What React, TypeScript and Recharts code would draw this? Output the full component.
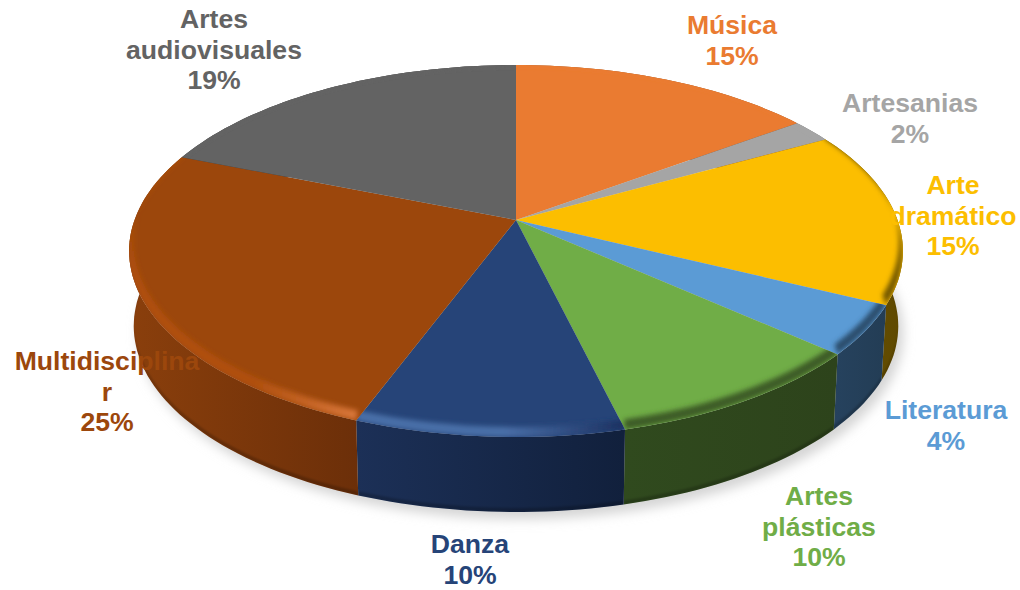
import { PieChart, Pie } from "recharts"

const categories = ["Música", "Artesanias", "Arte dramático", "Literatura", "Artes plásticas", "Danza", "Multidisciplinar", "Artes audiovisuales"]
const shares = [15, 2, 15.2, 4.3, 9.65, 9.6, 25.25, 19]
const topColors = ["#EA7B31", "#A5A5A5", "#FCBE00", "#5B9BD5", "#70AD47", "#264478", "#9C470C", "#636363"]
const wallLeft = ["#8c4a1d", "#636363", "#6b5200", "#26425e", "#304a1e", "#1c3057", "#8a3f0c", "#3b3b3b"]
const wallRight = ["#8c4a1d", "#636363", "#5f4900", "#233d55", "#2d431b", "#11203c", "#6c2f09", "#3b3b3b"]
const bevelLeft = ["#EA7B31", "#A5A5A5", "#6f5500", "#2c4d6d", "#3d5c26", "#4a6fa8", "#b0500e", "#636363"]
const bevelRight = ["#EA7B31", "#A5A5A5", "#6f5500", "#2c4d6d", "#3d5c26", "#1a3060", "#d9773a", "#636363"]
const labelLines = [["Música"], ["Artesanias"], ["Arte", "dramático"], ["Literatura"], ["Artes", "plásticas"], ["Danza"], ["Multidisciplina", "r"], ["Artes", "audiovisuales"]]
const labelX = [732, 910, 953, 946, 819, 470, 107, 214]
const labelY = [34, 112, 194, 419, 505, 553, 370, 28]

const slices = categories.map((name, i) => ({ name, value: shares[i], fill: topColors[i] }))

const W = 1020, H = 590
const CX = 516, CY = 220, R = 180.8
const XS = 2.11, P = 0.1667
const DEPTH = 75, BOTTOM_SHRINK = 0.988

// tilted disc: projects a pie angle to the page
const project = (deg: number, scale = 1, dy = 0) => {
  const a = (deg * Math.PI) / 180
  const u = Math.cos(a), v = Math.sin(a)
  const w = 1 + P * v
  return [CX + ((R * XS * u) / w) * scale, CY - (R * v) / w + dy]
}

const arc = (from: number, to: number, scale = 1, dy = 0) => {
  const n = Math.max(2, Math.ceil(Math.abs(to - from) / 1.5))
  const pts: number[][] = []
  for (let i = 0; i <= n; i++) pts.push(project(from + ((to - from) * i) / n, scale, dy))
  return pts
}

const toPath = (pts: number[][]) => "M" + pts.map(p => p[0].toFixed(1) + "," + p[1].toFixed(1)).join("L") + "Z"

const ShadowShape = (props: any) => {
  if (props.name !== categories[0]) return null
  const d = toPath(arc(0, 360, BOTTOM_SHRINK, DEPTH + 7).map(p => [p[0] + 5, p[1]]))
  return (
    <g>
      <defs>
        <filter id="soft" x="-10%" y="-10%" width="120%" height="120%"><feGaussianBlur stdDeviation="6" /></filter>
      </defs>
      <path d={d} fill="#d4d4d4" filter="url(#soft)" />
    </g>
  )
}

const WallShape = (props: any) => {
  const i = categories.indexOf(props.name)
  const s = props.startAngle, e = props.endAngle
  const d = toPath([...arc(s, e), ...arc(s, e, BOTTOM_SHRINK, DEPTH).reverse()])
  const rim = [...arc(s, e, BOTTOM_SHRINK, DEPTH), ...arc(s, e, BOTTOM_SHRINK, DEPTH - 4).reverse()]
  return (
    <g>
      <defs>
        <linearGradient id={"wall" + i} x1="0" x2="1" y1="0" y2="0">
          <stop offset="0" stopColor={wallLeft[i]} />
          <stop offset="1" stopColor={wallRight[i]} />
        </linearGradient>
        <clipPath id={"wallClip" + i}><path d={d} /></clipPath>
        <filter id={"rimBlur" + i} x="-10%" y="-50%" width="120%" height="200%"><feGaussianBlur stdDeviation="1" /></filter>
      </defs>
      <path d={d} fill={`url(#wall${i})`} />
      <g clipPath={`url(#wallClip${i})`}>
        <path d={toPath(rim)} fill="#000" fillOpacity={0.22} filter={`url(#rimBlur${i})`} />
      </g>
    </g>
  )
}

const TopShape = (props: any) => {
  const i = categories.indexOf(props.name)
  const s = props.startAngle, e = props.endAngle
  const d = toPath([[CX, CY], ...arc(s, e)])
  const band = [...arc(s, e), ...arc(s, e, 0.99, -10).reverse()]
  return (
    <g>
      <defs>
        <clipPath id={"slice" + i}><path d={d} /></clipPath>
        <filter id={"bevelBlur" + i} x="-20%" y="-20%" width="140%" height="140%"><feGaussianBlur stdDeviation="2.4" /></filter>
        <linearGradient id={"bevel" + i} x1="0" x2="1" y1="0" y2="0">
          <stop offset="0" stopColor={bevelLeft[i]} />
          <stop offset="0.55" stopColor={bevelLeft[i]} />
          <stop offset="1" stopColor={bevelRight[i]} />
        </linearGradient>
      </defs>
      <path d={d} fill={topColors[i]} />
      <g clipPath={`url(#slice${i})`}>
        <path d={toPath(band)} fill={`url(#bevel${i})`} filter={`url(#bevelBlur${i})`} />
      </g>
    </g>
  )
}

const SliceLabel = (props: any) => {
  const i = categories.indexOf(props.name)
  const lines = [...labelLines[i], Math.round(shares[i]) + "%"]
  return (
    <text x={labelX[i]} y={labelY[i]} textAnchor="middle" fill={topColors[i]} fontFamily="Liberation Sans" fontWeight="bold" fontSize={26.6}>
      {lines.map((t, k) => <tspan key={k} x={labelX[i]} dy={k ? 30.5 : 0}>{t}</tspan>)}
    </text>
  )
}

export default function App() {
  const pie = { data: slices, dataKey: "value", nameKey: "name", cx: CX, cy: CY, outerRadius: R, startAngle: 90, endAngle: -270, stroke: "none", isAnimationActive: false }
  return (
    <div style={{ position: "absolute", left: 0, top: 0, width: W, height: H, background: "#fff" }}>
      <PieChart width={W} height={H} margin={{ top: 0, right: 0, bottom: 0, left: 0 }}>
        <Pie {...pie} shape={ShadowShape} />
        <Pie {...pie} shape={WallShape} />
        <Pie {...pie} shape={TopShape} label={SliceLabel} labelLine={false} />
      </PieChart>
    </div>
  )
}
